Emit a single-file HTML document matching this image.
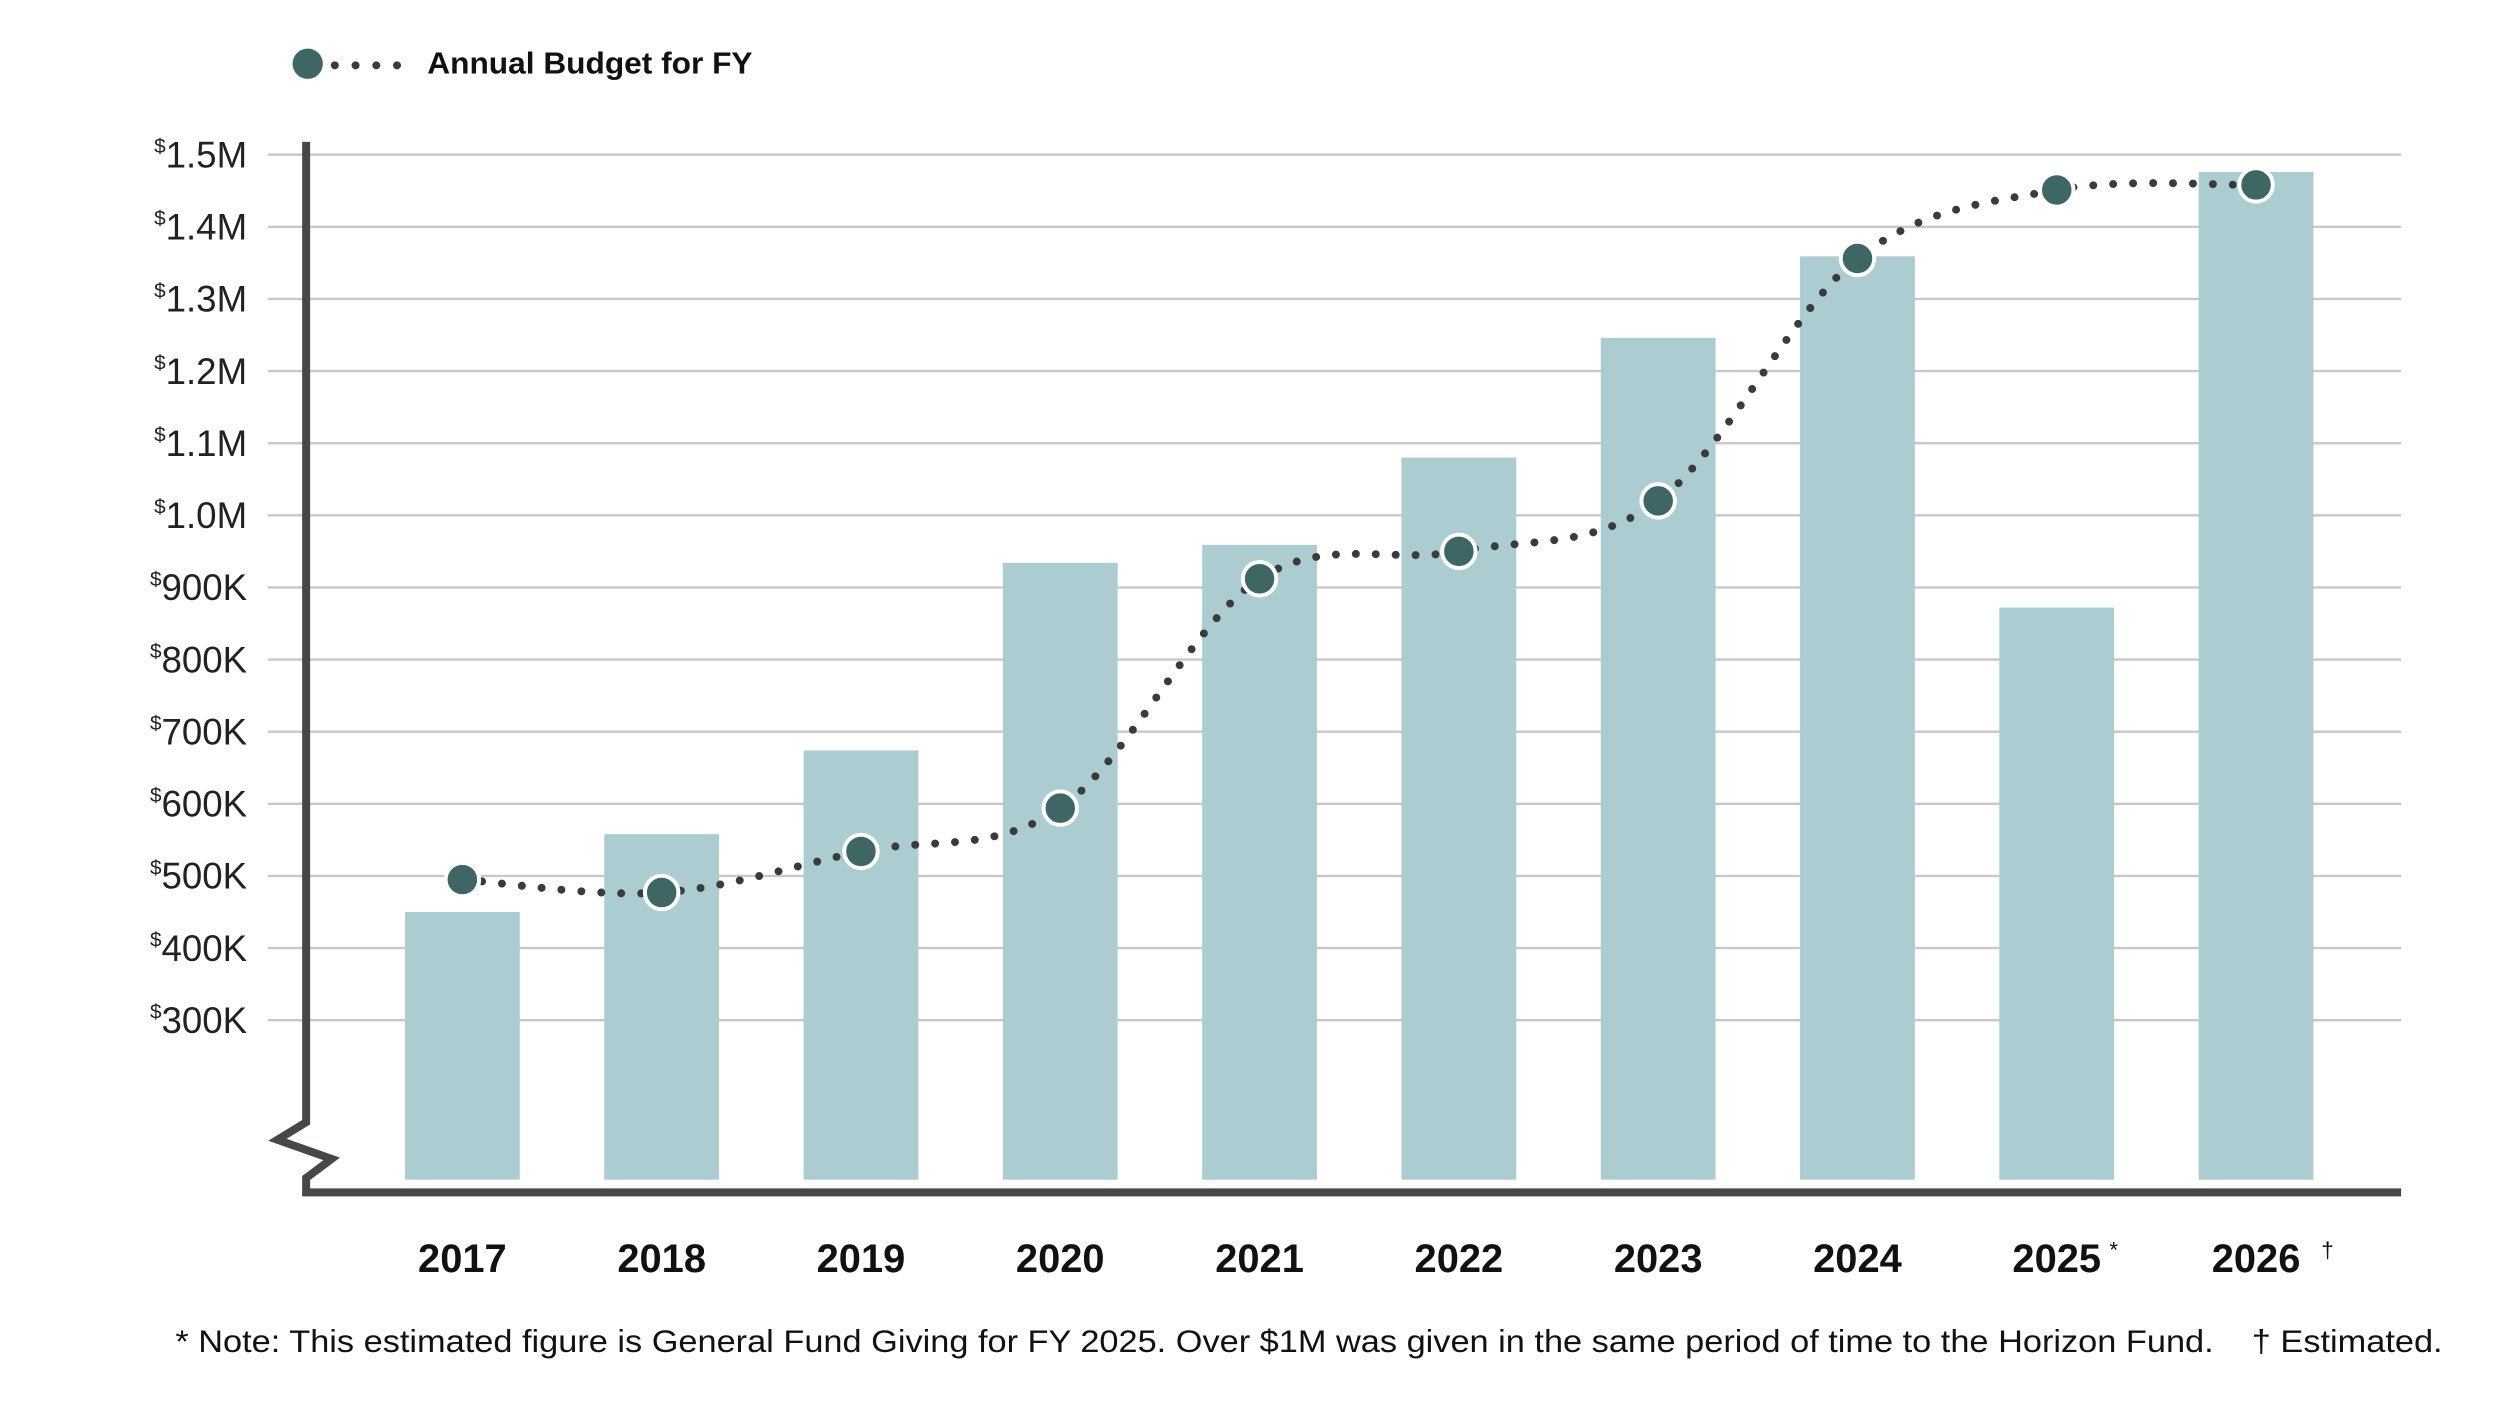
<!DOCTYPE html>
<html><head><meta charset="utf-8"><title>Annual Budget Chart</title>
<style>
html,body{margin:0;padding:0;background:#fff;}
svg{display:block;}
</style></head>
<body>
<svg id="chart" width="2500" height="1406" viewBox="0 0 1568 882" preserveAspectRatio="none" xmlns="http://www.w3.org/2000/svg">
  <g id="legend">
    <circle cx="193" cy="40" r="9.5" fill="#3d6664"/>
    <line x1="210" y1="41" x2="252" y2="41" stroke="#3a3c3c" stroke-width="5" stroke-linecap="round" stroke-dasharray="0 13"/>
    <text x="268" y="46" font-family="Liberation Sans, sans-serif" font-weight="bold" font-size="19" fill="#111" textLength="204" lengthAdjust="spacingAndGlyphs">Annual Budget for FY</text>
  </g>
  <g id="grid"></g>
  <g id="ylabels"></g>
  <g id="bars"></g>
  <path d="M192 89 L192 704 L174 715 L208 727 L192 739 L192 748 L1506 748" fill="none" stroke="#454847" stroke-width="5" stroke-linejoin="miter"/>
  <g id="line"></g>
  <g id="xlabels"></g>
  <text x="110" y="848" font-family="Liberation Sans, sans-serif" font-size="20" fill="#111" textLength="1422" lengthAdjust="spacingAndGlyphs">* Note: This estimated figure is General Fund Giving for FY 2025. Over $1M was given in the same period of time to the Horizon Fund.&#160;&#160;&#160;&#160;&#8224; Estimated.</text>
</svg>
<script>
const years = ['2017','2018','2019','2020','2021','2022','2023','2024','2025','2026'];
const yearMarks = ['','','','','','','','','*','\u2020'];
const giving = [450,558,674,934,959,1080,1246,1359,872,1476];
const budget = [495,477,534,594,912,950,1020,1356,1451,1458];
const yTicks = [300,400,500,600,700,800,900,1000,1100,1200,1300,1400,1500];
const yTickLabels = ['300K','400K','500K','600K','700K','800K','900K','1.0M','1.1M','1.2M','1.3M','1.4M','1.5M'];

const NS='http://www.w3.org/2000/svg';
function yScale(v){return 97+(1500-v)*0.4525;}
function xScale(i){return 290+i*125;}
const baseY=740, barW=72;
function mk(tag,attrs,parent){const e=document.createElementNS(NS,tag);for(const k in attrs)e.setAttribute(k,attrs[k]);parent.appendChild(e);return e;}

const grid=document.getElementById('grid'), yl=document.getElementById('ylabels');
yTicks.forEach((t,i)=>{
  const y=yScale(t);
  const l=mk('line',{x1:168,x2:1506,y1:y,y2:y,stroke:'#c8c8c8','stroke-width':1.5},grid);
  
  
  const tx=mk('text',{x:155,y:y+8,'text-anchor':'end','font-family':'Liberation Sans, sans-serif','font-size':'23',fill:'#222'},yl);
  
  
  const s=mk('tspan',{'font-size':'13',dy:'-9'},tx); s.textContent='$';
  const m=mk('tspan',{dy:'9'},tx); m.textContent=yTickLabels[i];
});

const bars=document.getElementById('bars'), xl=document.getElementById('xlabels');
years.forEach((yr,i)=>{
  const top=yScale(giving[i]);
  const r=mk('rect',{x:xScale(i)-barW/2,y:top,width:barW,height:baseY-top,fill:'#abccd0'},bars);
  
  
  const t=mk('text',{x:xScale(i),y:798,'text-anchor':'middle','font-family':'Liberation Sans, sans-serif','font-weight':'bold','font-size':'25',fill:'#111'},xl);
  
  
  t.textContent=yr;
  if(yearMarks[i]){
    const s=mk('text',{x:xScale(i)+(i===8?33:41),y:789,'text-anchor':'start','font-family':'Liberation Sans, sans-serif','font-size':'14',fill:'#111'},xl);
    
    
    s.textContent=yearMarks[i];
  }
});

const pts=budget.map((v,i)=>[xScale(i),yScale(v)]);
let d='M'+pts[0][0]+' '+pts[0][1];
for(let i=0;i<pts.length-1;i++){
  const p0=pts[Math.max(0,i-1)],p1=pts[i],p2=pts[i+1],p3=pts[Math.min(pts.length-1,i+2)];
  const c1=[p1[0]+(p2[0]-p0[0])/6,p1[1]+(p2[1]-p0[1])/6];
  const c2=[p2[0]-(p3[0]-p1[0])/6,p2[1]-(p3[1]-p1[1])/6];
  d+=' C'+c1[0]+' '+c1[1]+' '+c2[0]+' '+c2[1]+' '+p2[0]+' '+p2[1];
}
const lg=document.getElementById('line');
const path=mk('path',{d:d,fill:'none',stroke:'#3a3c3c','stroke-width':5,'stroke-linecap':'round','stroke-dasharray':'0 12.5'},lg);


pts.forEach((p,i)=>{
  const c=mk('circle',{cx:p[0],cy:p[1],r:10.5,fill:'#3d6664',stroke:'#fff','stroke-width':2.5},lg);
  
  
});
</script>
</body></html>
